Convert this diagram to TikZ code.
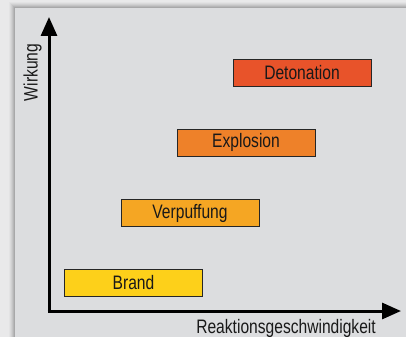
\documentclass[tikz,border=0pt]{standalone}
\usepackage{fontspec}
\setmainfont{Liberation Sans}
\newfontfamily\labfont[FakeStretch=0.8]{Liberation Sans}
\usetikzlibrary{arrows.meta}
\definecolor{outerbg}{HTML}{E9E9EA}
\definecolor{panelbg}{HTML}{DCDDDF}
\definecolor{cdet}{HTML}{E8532A}
\definecolor{cexp}{HTML}{EE8129}
\definecolor{cver}{HTML}{F5A623}
\definecolor{cbra}{HTML}{FDD01A}
\tikzset{
  stage/.style={draw=black!85, line width=0.9pt, rectangle, minimum width=138pt, minimum height=27pt, inner sep=0pt, font=\labfont\fontsize{19.5}{21}\selectfont, text=black!90},
  lbl/.style={font=\labfont\fontsize{19.5}{21}\selectfont, inner sep=0pt, text=black!90},
  axis/.style={line width=3pt, -{Triangle[length=19pt,width=16pt]}}
}
\begin{document}
\begin{tikzpicture}[x=1pt,y=-1pt]
\useasboundingbox (0,0) rectangle (406,337);
\fill[outerbg] (0,0) rectangle (406,337);
\foreach \i/\o in {6/0.025,5/0.035,4/0.045,3/0.055,2/0.065,1/0.075}{
  \fill[black,opacity=\o] (15-\i,8-\i) rectangle (406,337);
}
\fill[panelbg] (15,8) rectangle (406,337);
\coordinate (O) at (49,311);
\coordinate (Y) at (49,17);
\coordinate (X) at (401,311);
\draw[axis] ([yshift=1.5pt]O) -- (Y);
\draw[axis] ([xshift=-1.5pt]O) -- (X);
\node[stage, fill=cdet] (det) at (302,72.5) {Detonation};
\node[stage, fill=cexp] (exp) at (246,142.5) {Explosion};
\node[stage, fill=cver] (ver) at (190,213) {Verpuffung};
\node[stage, fill=cbra] (bra) at (133.5,283) {Brand};
\node[lbl, rotate=90, anchor=base] (wir) at (37.5,72.5) {Wirkung};
\node[lbl, anchor=base east] (rea) at (376,333) {Reaktionsgeschwindigkeit};
\end{tikzpicture}
\end{document}
